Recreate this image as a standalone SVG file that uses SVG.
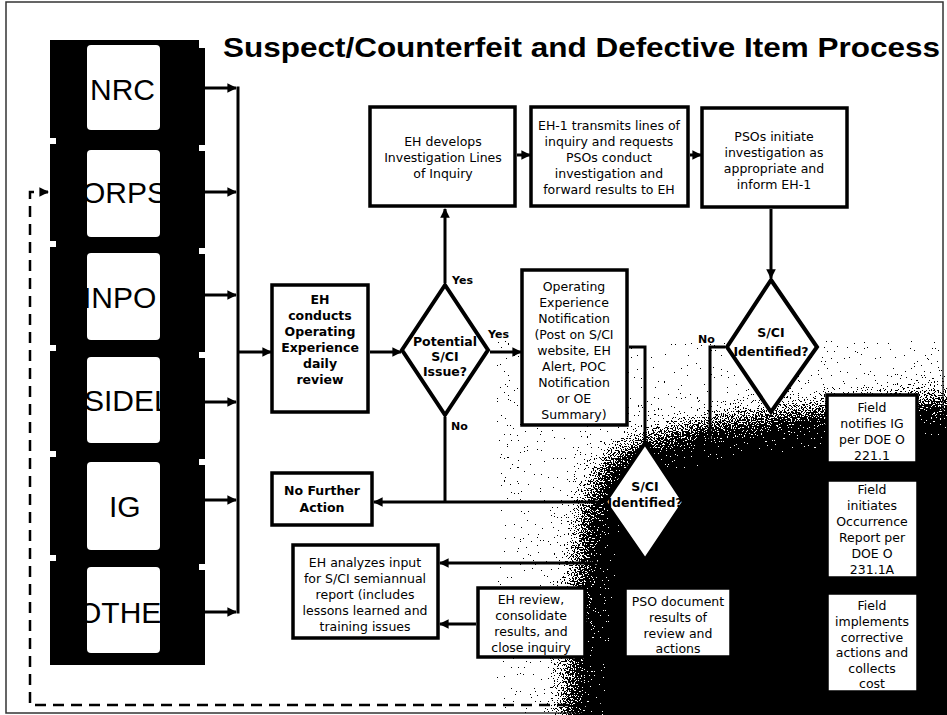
<svg xmlns="http://www.w3.org/2000/svg" width="947" height="715" viewBox="0 0 947 715">
<defs>
<style>
.box{fill:#fff;stroke:#000;stroke-width:3.5}
.dia{fill:#fff;stroke:#000;stroke-width:4;stroke-linejoin:miter}
.t{font-family:"DejaVu Sans","Liberation Sans",sans-serif;font-size:12.5px;text-anchor:middle;fill:#000}
.b{font-weight:bold}
.lbl{font-family:"DejaVu Sans","Liberation Sans",sans-serif;font-size:11px;font-weight:bold;fill:#000}
.big{font-family:"Liberation Sans",Arial,sans-serif;font-size:30px;fill:#000}
.ln{stroke:#000;stroke-width:3;fill:none}
.dash{stroke:#000;stroke-width:2.5;fill:none;stroke-dasharray:11 7}
.wb{fill:#fff}
</style>
<marker id="ah" viewBox="0 0 10 10" refX="9" refY="5" markerWidth="3.2" markerHeight="3.2" orient="auto" markerUnits="strokeWidth">
<path d="M0,0 L10,5 L0,10 Z" fill="#000"/>
</marker>
<filter id="grain" x="-15%" y="-15%" width="130%" height="130%" color-interpolation-filters="sRGB">
<feGaussianBlur in="SourceAlpha" stdDeviation="16" result="b"/>
<feTurbulence type="fractalNoise" baseFrequency="0.7" numOctaves="2" seed="7" result="n"/>
<feColorMatrix in="n" type="matrix" values="0 0 0 0 0  0 0 0 0 0  0 0 0 0 0  2 0 0 0 -0.5" result="na"/>
<feComposite in="b" in2="na" operator="arithmetic" k1="0" k2="1" k3="1" k4="-0.5" result="s"/>
<feComponentTransfer in="s"><feFuncA type="discrete" tableValues="0 1"/></feComponentTransfer>
</filter>
</defs>
<rect x="0" y="0" width="947" height="715" fill="#fff"/>
<rect x="6" y="2" width="937" height="711" fill="none" stroke="#333" stroke-width="1.5"/>
<!-- dark scanned area -->
<path d="M1010,396 L947,398 L860,404 L770,414 L700,424 L640,440 L600,465 L582,520 L574,600 L564,715 L564,770 L1010,770 Z" fill="#000" filter="url(#grain)"/>
<text x="223" y="57" font-family="'Liberation Sans',Arial,sans-serif" font-size="28" font-weight="bold" textLength="717" lengthAdjust="spacingAndGlyphs">Suspect/Counterfeit and Defective Item Process</text>

<!-- source column -->
<g id="sources">
<rect x="50" y="40" width="155" height="625" fill="#000"/>
<rect class="wb" x="199" y="36" width="8" height="12"/>
<rect class="wb" x="48" y="138" width="8" height="6"/>
<rect class="wb" x="199" y="145" width="8" height="6"/>
<rect class="wb" x="48" y="241" width="8" height="6"/>
<rect class="wb" x="199" y="248" width="8" height="6"/>
<rect class="wb" x="48" y="345" width="8" height="6"/>
<rect class="wb" x="199" y="352" width="8" height="6"/>
<rect class="wb" x="48" y="451" width="8" height="6"/>
<rect class="wb" x="199" y="459" width="8" height="6"/>
<rect class="wb" x="48" y="555" width="8" height="6"/>
<rect class="wb" x="199" y="564" width="8" height="6"/>
</g>
<g id="NRC"><rect class="wb" x="87" y="45" width="73" height="85" rx="4"/><text class="big" x="90" y="100">NRC</text></g>
<g id="ORPS"><rect class="wb" x="87" y="150" width="73" height="87" rx="4"/><text class="big" x="82" y="203">ORPS</text></g>
<g id="INPO"><rect class="wb" x="87" y="253" width="73" height="87" rx="4"/><text class="big" x="83" y="308">INPO</text></g>
<g id="SIDEL"><rect class="wb" x="87" y="357" width="73" height="86" rx="4"/><text class="big" x="84" y="411">SIDEL</text></g>
<g id="IG"><rect class="wb" x="87" y="462" width="73" height="88" rx="4"/><text class="big" x="109" y="517">IG</text></g>
<g id="OTHER"><rect class="wb" x="87" y="567" width="73" height="86" rx="4"/><text class="big" x="78" y="623">OTHER</text></g>

<!-- connectors -->
<g id="connectors">
<line class="ln" x1="205" y1="88" x2="236" y2="88" marker-end="url(#ah)"/>
<line class="ln" x1="205" y1="192" x2="236" y2="192" marker-end="url(#ah)"/>
<line class="ln" x1="205" y1="295" x2="236" y2="295" marker-end="url(#ah)"/>
<line class="ln" x1="205" y1="402" x2="236" y2="402" marker-end="url(#ah)"/>
<line class="ln" x1="205" y1="500" x2="236" y2="500" marker-end="url(#ah)"/>
<line class="ln" x1="205" y1="612" x2="236" y2="612" marker-end="url(#ah)"/>
<line class="ln" x1="238" y1="86.5" x2="238" y2="613.5"/>
<line class="ln" x1="238" y1="352" x2="271" y2="352" marker-end="url(#ah)"/>
<line class="ln" x1="370" y1="352" x2="401" y2="352" marker-end="url(#ah)"/>
<line class="ln" x1="445" y1="283" x2="445" y2="209" marker-end="url(#ah)"/>
<line class="ln" x1="490" y1="352" x2="521" y2="352" marker-end="url(#ah)"/>
<polyline class="ln" points="445,417 445,502"/>
<line class="ln" x1="603" y1="502" x2="374" y2="502" marker-end="url(#ah)"/>
<line class="ln" x1="517" y1="155" x2="530" y2="155" marker-end="url(#ah)"/>
<line class="ln" x1="690" y1="155" x2="701" y2="155" marker-end="url(#ah)"/>
<line class="ln" x1="771" y1="209" x2="771" y2="278" marker-end="url(#ah)"/>
<polyline class="ln" points="725,347 710,347 710,440"/>
<polyline class="ln" points="629,347 645,347 645,441"/>
<line class="ln" x1="615" y1="563" x2="440" y2="563" marker-end="url(#ah)"/>
<line class="ln" x1="476" y1="624" x2="440" y2="624" marker-end="url(#ah)"/>
<polyline class="dash" points="640,705 30,705 30,192 46,192"/>
<line class="ln" x1="40" y1="192" x2="48" y2="192" marker-end="url(#ah)"/>
<text class="lbl" x="452" y="284">Yes</text>
<text class="lbl" x="488" y="338">Yes</text>
<text class="lbl" x="451" y="430">No</text>
<text class="lbl" x="698" y="343">No</text>
</g>

<!-- nodes -->
<g id="eh-conducts"><rect class="box" x="272" y="285" width="96" height="127"/>
<text class="t b" font-size="12"><tspan x="320" y="304">EH</tspan><tspan x="320" y="320">conducts</tspan><tspan x="320" y="336">Operating</tspan><tspan x="320" y="352">Experience</tspan><tspan x="320" y="368">daily</tspan><tspan x="320" y="384">review</tspan></text></g>

<g id="potential"><polygon class="dia" points="445,285 488,350 445,415 402,350"/>
<text class="t b" font-size="12"><tspan x="445" y="346">Potential</tspan><tspan x="445" y="361">S/CI</tspan><tspan x="445" y="376">Issue?</tspan></text></g>

<g id="eh-develops"><rect class="box" x="370" y="107" width="145" height="99"/>
<text class="t"><tspan x="443" y="146">EH develops</tspan><tspan x="443" y="162">Investigation Lines</tspan><tspan x="443" y="178">of Inquiry</tspan></text></g>

<g id="eh1-transmits"><rect class="box" x="531" y="107" width="157" height="99"/>
<text class="t"><tspan x="609" y="130">EH-1 transmits lines of</tspan><tspan x="609" y="146">inquiry and requests</tspan><tspan x="609" y="162">PSOs conduct</tspan><tspan x="609" y="178">investigation and</tspan><tspan x="609" y="194">forward results to EH</tspan></text></g>

<g id="psos-initiate"><rect class="box" x="702" y="108" width="145" height="99"/>
<text class="t"><tspan x="774" y="141">PSOs initiate</tspan><tspan x="774" y="157">investigation as</tspan><tspan x="774" y="173">appropriate and</tspan><tspan x="774" y="189">inform EH-1</tspan></text></g>

<g id="oe-notification"><rect class="box" x="522" y="270" width="105" height="155"/>
<text class="t"><tspan x="574" y="291">Operating</tspan><tspan x="574" y="307">Experience</tspan><tspan x="574" y="323">Notification</tspan><tspan x="574" y="339">(Post on S/CI</tspan><tspan x="574" y="355">website, EH</tspan><tspan x="574" y="371">Alert, POC</tspan><tspan x="574" y="387">Notification</tspan><tspan x="574" y="403">or OE</tspan><tspan x="574" y="419">Summary)</tspan></text></g>

<g id="sci-identified-upper"><polygon class="dia" points="771,280 817,347 771,412 727,347"/>
<text class="t b" font-size="12"><tspan x="771" y="337">S/CI</tspan><tspan x="771" y="356">Identified?</tspan></text></g>

<g id="sci-identified-lower"><polygon class="dia" points="645,443 684,502 645,560 605,502"/>
<text class="t b" font-size="11.5"><tspan x="645" y="491">S/CI</tspan><tspan x="645" y="507">Identified?</tspan></text></g>

<g id="no-further-action"><rect class="box" x="272" y="473" width="100" height="52"/>
<text class="t b" font-size="13"><tspan x="322" y="495">No Further</tspan><tspan x="322" y="512">Action</tspan></text></g>

<g id="eh-analyzes"><rect class="box" x="293" y="545" width="145" height="93"/>
<text class="t"><tspan x="365" y="567">EH analyzes input</tspan><tspan x="365" y="583">for S/CI semiannual</tspan><tspan x="365" y="599">report (includes</tspan><tspan x="365" y="615">lessons learned and</tspan><tspan x="365" y="631">training issues</tspan></text></g>

<g id="eh-review"><rect class="box" x="478" y="588" width="107" height="69"/>
<text class="t"><tspan x="531" y="604">EH review,</tspan><tspan x="531" y="620">consolidate</tspan><tspan x="531" y="636">results, and</tspan><tspan x="531" y="652">close inquiry</tspan></text></g>

<g id="pso-document"><rect class="box" x="625" y="588" width="106" height="69"/>
<text class="t"><tspan x="678" y="606">PSO document</tspan><tspan x="678" y="622">results of</tspan><tspan x="678" y="638">review and</tspan><tspan x="678" y="653">actions</tspan></text></g>

<g id="field-notifies"><rect class="box" x="827" y="395" width="90" height="68"/>
<text class="t"><tspan x="872" y="412">Field</tspan><tspan x="872" y="428">notifies IG</tspan><tspan x="872" y="444">per DOE O</tspan><tspan x="872" y="460">221.1</tspan></text></g>

<g id="field-initiates"><rect class="box" x="827" y="480" width="91" height="98"/>
<text class="t"><tspan x="872" y="494">Field</tspan><tspan x="872" y="510">initiates</tspan><tspan x="872" y="526">Occurrence</tspan><tspan x="872" y="542">Report per</tspan><tspan x="872" y="558">DOE O</tspan><tspan x="872" y="574">231.1A</tspan></text></g>

<g id="field-implements"><rect class="box" x="827" y="593" width="91" height="99"/>
<text class="t"><tspan x="872" y="610">Field</tspan><tspan x="872" y="626">implements</tspan><tspan x="872" y="642">corrective</tspan><tspan x="872" y="657">actions and</tspan><tspan x="872" y="673">collects</tspan><tspan x="872" y="688">cost</tspan></text></g>
</svg>
